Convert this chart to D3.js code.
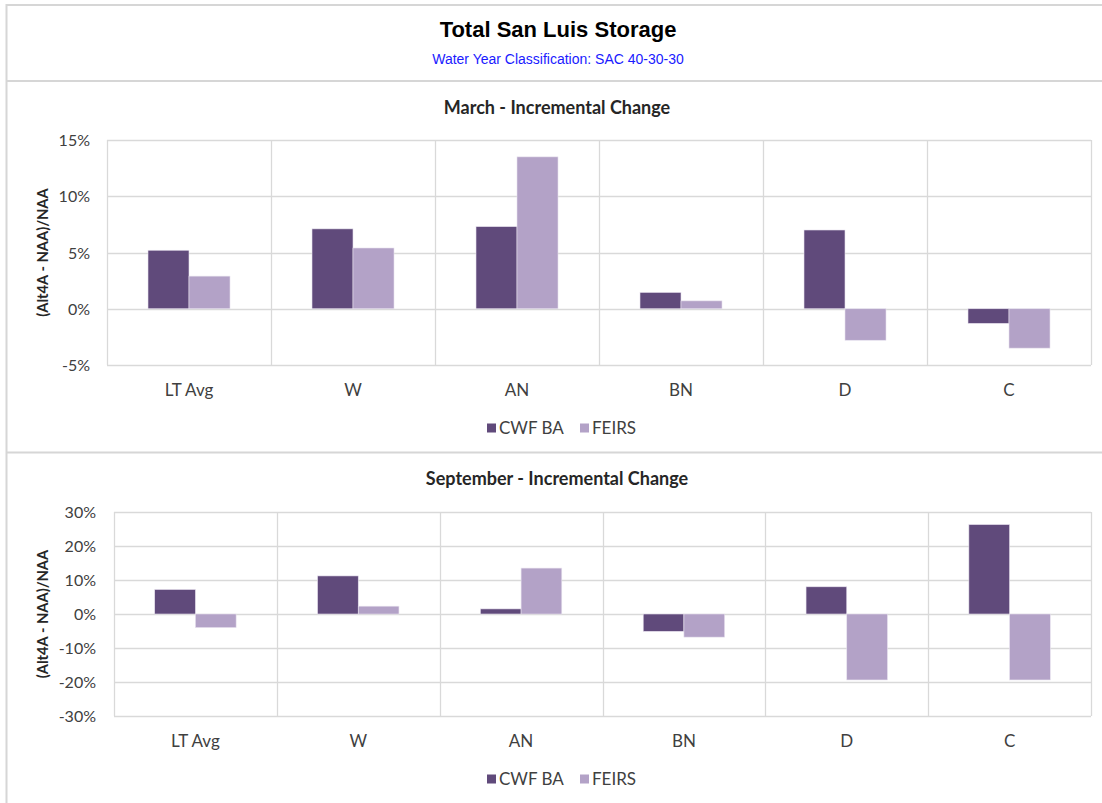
<!DOCTYPE html>
<html>
<head>
<meta charset="utf-8">
<script src="https://cdn.jsdelivr.net/npm/d3@7"></script>
<style>
  html, body { margin: 0; padding: 0; background: #fff; }
  svg { display: block; }
</style>
</head>
<body>
<svg id="chart" width="1102" height="803"></svg>
<script>
// Water year types shown along the x axis
const categories = ["LT Avg", "W", "AN", "BN", "D", "C"];
const seriesNames = ["CWF BA", "FEIRS"];

// March storage change, fraction of NAA
const marchCWF   = [0.052, 0.071, 0.073, 0.0145, 0.070, -0.013];
const marchFEIRS = [0.029, 0.054, 0.135, 0.007, -0.028, -0.035];
const marchTicks = [-0.05, 0, 0.05, 0.10, 0.15];

// September storage change, fraction of NAA
const septCWF   = [0.072, 0.112, 0.015, -0.051, 0.080, 0.263];
const septFEIRS = [-0.040, 0.023, 0.135, -0.068, -0.194, -0.194];
const septTicks = [-0.30, -0.20, -0.10, 0, 0.10, 0.20, 0.30];

const colors = { "CWF BA": "#604a7b", "FEIRS": "#b3a2c7" };
const gridColor = "#d9d9d9";
const axisFont = "Lato, 'Open Sans', sans-serif";
const pct = d => d3.format(".0%")(d).replace("\u2212", "-");

const svg = d3.select("#chart");

// Outer frame and separators
svg.append("line").attr("x1", 6).attr("x2", 1102).attr("y1", 5).attr("y2", 5)
  .attr("stroke", "#d6d6d6").attr("stroke-width", 2);
svg.append("line").attr("x1", 6.5).attr("x2", 6.5).attr("y1", 4).attr("y2", 803)
  .attr("stroke", "#d6d6d6").attr("stroke-width", 2);
svg.append("line").attr("x1", 6).attr("x2", 1102).attr("y1", 81).attr("y2", 81)
  .attr("stroke", "#d6d6d6").attr("stroke-width", 2);
svg.append("line").attr("x1", 6).attr("x2", 1102).attr("y1", 452.5).attr("y2", 452.5)
  .attr("stroke", "#d6d6d6").attr("stroke-width", 2);

// Header
svg.append("text").attr("x", 558).attr("y", 37).attr("text-anchor", "middle")
  .attr("font-family", "'Liberation Sans', Arial, sans-serif").attr("font-weight", "bold")
  .attr("font-size", 22).attr("fill", "#000").text("Total San Luis Storage");
svg.append("text").attr("x", 558).attr("y", 64).attr("text-anchor", "middle")
  .attr("font-family", "'Liberation Sans', Arial, sans-serif")
  .attr("font-size", 14).attr("fill", "#1a1aff").text("Water Year Classification: SAC 40-30-30");

function drawPanel(cfg) {
  const g = svg.append("g");
  const { x0, x1, yTop, yBot, cwf, feirs, ticks, title, titleY, labelY, legendY, tickX } = cfg;

  const x = d3.scaleBand().domain(categories).range([x0, x1]).paddingInner(0).paddingOuter(0);
  const xs = d3.scaleBand().domain(seriesNames).range([0, x.bandwidth()])
    .paddingInner(0).paddingOuter(1);
  const y = d3.scaleLinear().domain([ticks[0], ticks[ticks.length - 1]]).range([yBot, yTop]);

  // Horizontal gridlines
  g.append("g").selectAll("line").data(ticks).join("line")
    .attr("x1", x0).attr("x2", x1)
    .attr("y1", d => Math.round(y(d)) + 0.5).attr("y2", d => Math.round(y(d)) + 0.5)
    .attr("stroke", gridColor).attr("stroke-width", 1.3);

  // Vertical category separators and plot edges
  const edges = categories.map(c => x(c)).concat([x1]);
  g.append("g").selectAll("line").data(edges).join("line")
    .attr("x1", d => Math.round(d) + 0.5).attr("x2", d => Math.round(d) + 0.5)
    .attr("y1", yTop).attr("y2", yBot)
    .attr("stroke", gridColor).attr("stroke-width", 1.3);

  // Y tick labels via d3 axis
  const yAxis = d3.axisLeft(y).tickValues(ticks).tickFormat(pct).tickSize(0).tickPadding(0);
  const ya = g.append("g").attr("transform", `translate(${tickX},0)`).call(yAxis);
  ya.select(".domain").remove();
  ya.selectAll("text").attr("font-family", axisFont).attr("font-size", 16).attr("fill", "#404040")
    .attr("dy", "0.35em");

  // Y axis title
  g.append("text")
    .attr("transform", `translate(48,${(yTop + yBot) / 2}) rotate(-90)`)
    .attr("text-anchor", "middle")
    .attr("font-family", axisFont).attr("font-weight", "bold").attr("font-size", 14.7)
    .attr("fill", "#262626").text("(Alt4A - NAA)/NAA");

  // X category labels
  const xAxis = d3.axisBottom(x).tickSize(0).tickPadding(0);
  const xa = g.append("g").attr("transform", `translate(0,${labelY})`).call(xAxis);
  xa.select(".domain").remove();
  xa.selectAll("text").attr("font-family", axisFont).attr("font-size", 17).attr("fill", "#404040")
    .attr("dy", "0.35em");

  // Bars
  const rows = categories.map((c, i) => ({ cat: c, values: [
    { s: "CWF BA", v: cwf[i] }, { s: "FEIRS", v: feirs[i] } ] }));
  g.append("g").selectAll("g").data(rows).join("g")
    .attr("transform", d => `translate(${x(d.cat)},0)`)
    .selectAll("rect").data(d => d.values).join("rect")
    .attr("x", d => xs(d.s))
    .attr("width", xs.bandwidth())
    .attr("y", d => y(Math.max(0, d.v)))
    .attr("height", d => Math.abs(y(d.v) - y(0)))
    .attr("fill", d => colors[d.s])
    .attr("stroke", "#e8e2ee").attr("stroke-width", 0.6);

  // Panel title
  g.append("text").attr("x", 557).attr("y", titleY).attr("text-anchor", "middle")
    .attr("font-family", axisFont).attr("font-weight", "bold").attr("font-size", 18)
    .attr("fill", "#262626").text(title);

  // Legend
  const legendX = [487, 580];
  const lg = g.append("g").selectAll("g").data(seriesNames).join("g")
    .attr("transform", (d, i) => `translate(${legendX[i]},${legendY})`);
  lg.append("rect").attr("x", 0).attr("y", -4.5).attr("width", 9).attr("height", 9)
    .attr("fill", d => colors[d]);
  lg.append("text").attr("x", 12).attr("y", 0).attr("dy", "0.35em")
    .attr("font-family", axisFont).attr("font-size", 17).attr("fill", "#404040").text(d => d);
}

drawPanel({
  x0: 107, x1: 1091, yTop: 140, yBot: 365,
  cwf: marchCWF, feirs: marchFEIRS, ticks: marchTicks,
  title: "March - Incremental Change", titleY: 114, labelY: 390, legendY: 428, tickX: 90
});

drawPanel({
  x0: 114, x1: 1091, yTop: 512, yBot: 716,
  cwf: septCWF, feirs: septFEIRS, ticks: septTicks,
  title: "September - Incremental Change", titleY: 485, labelY: 741, legendY: 779, tickX: 96
});
</script>
</body>
</html>
